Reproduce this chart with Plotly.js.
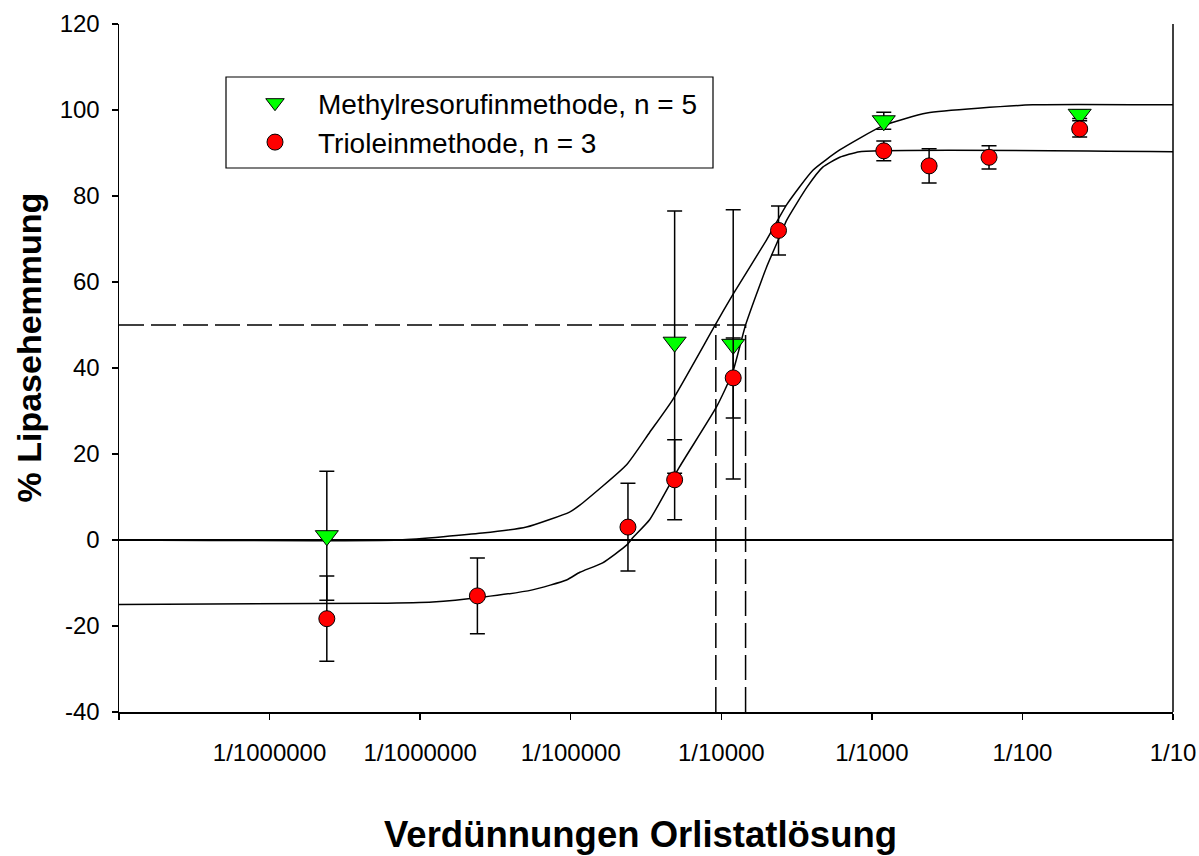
<!DOCTYPE html>
<html>
<head>
<meta charset="utf-8">
<script src="https://cdn.plot.ly/plotly-3.0.1.min.js"></script>
<style>
  html, body { margin: 0; padding: 0; background: #ffffff; }
  #chart { width: 1199px; height: 856px; }
</style>
</head>
<body>
<div id="chart"></div>
<script>
// ---- Data ----
// Dilutions (x) of the Orlistat solution
const methylX = [2.4e-7, 4.9e-5, 1.2e-4, 1.2e-3, 2.4e-2];
const methylY = [1, 46, 45.5, 97.5, 99];
const methylErr = [15, 30.5, 31.3, 2, 1];

const trioleinX = [2.4e-7, 2.4e-6, 2.4e-5, 4.9e-5, 1.2e-4, 2.4e-4, 1.2e-3, 2.4e-3, 6.0e-3, 2.4e-2];
const trioleinY = [-18.3, -13, 3, 14, 37.7, 72, 90.5, 87, 89, 95.6];
const trioleinErr = [9.9, 8.8, 10.2, 9.3, 9.3, 5.7, 2.3, 4, 2.7, 1.9];

// Fitted curves
const methylFitX = [1e-8, 7.28e-7, 2.59e-6, 5.08e-6, 9.82e-6, 1.15e-5, 2.35e-5, 3.34e-5, 4.75e-5, 9.04e-5,
                    1.19e-4, 2.00e-4, 2.72e-4, 4.06e-4, 6.12e-4, 1.18e-3, 2.32e-3, 1.17e-2, 1e-1];
const methylFitY = [0, 0, 1.6, 3, 6.5, 8.1, 17.5, 25, 32.6, 49.8,
                    57, 69.8, 78, 86, 90.7, 96.3, 99.3, 101.2, 101.2];

const trioleinFitX = [1e-8, 5.12e-7, 1.21e-6, 2.59e-6, 5.57e-6, 9.38e-6, 1.15e-5, 1.63e-5, 2.35e-5, 2.58e-5,
                      3.34e-5, 5.28e-5, 9.31e-5, 1.19e-4, 1.45e-4, 2.00e-4, 2.44e-4, 2.72e-4, 3.70e-4, 4.72e-4,
                      6.12e-4, 8.32e-4, 1e-1];
const trioleinFitY = [-15, -14.7, -14.4, -13.3, -11.6, -9.3, -7.5, -5.3, -1.2, 0.5,
                      4.7, 17, 31, 39, 50, 63.5, 70.5, 74.4, 82, 86.7,
                      89, 90.3, 90.3];

// IC50 guide lines
const ic50Level = 50;
const ic50Methyl = 9.2e-5;
const ic50Triolein = 1.45e-4;
const xMin = 1e-8, xMax = 1e-1, yMin = -40, yMax = 120;

// Axis ticks
const xTickVals = [1e-8, 1e-7, 1e-6, 1e-5, 1e-4, 1e-3, 1e-2, 1e-1];
const xTickText = ['', '1/1000000', '1/1000000', '1/100000', '1/10000', '1/1000', '1/100', '1/10'];
const yTickVals = [-40, -20, 0, 20, 40, 60, 80, 100, 120];
const yTickText = ['-40', '-20', '0', '20', '40', '60', '80', '100', '120'];

const legendNames = ['Methylresorufinmethode, n = 5', 'Trioleinmethode, n = 3'];
const xTitle = 'Verdünnungen Orlistatlösung';
const yTitle = '% Lipasehemmung';

// ---- Traces ----
const FONT = 'Liberation Sans, Arial, Helvetica, sans-serif';
const dashStyle = '25px,7px';

const traces = [
  { x: methylFitX, y: methylFitY, mode: 'lines', line: {color: '#000', width: 1.5, shape: 'spline', smoothing: 0.5},
    showlegend: false, hoverinfo: 'skip' },
  { x: trioleinFitX, y: trioleinFitY, mode: 'lines', line: {color: '#000', width: 1.5, shape: 'spline', smoothing: 0.5},
    showlegend: false, hoverinfo: 'skip' },
  { x: [xMin, ic50Triolein], y: [ic50Level, ic50Level], mode: 'lines',
    line: {color: '#000', width: 1.5, dash: dashStyle}, showlegend: false, hoverinfo: 'skip' },
  { x: [ic50Methyl, ic50Methyl], y: [yMin, ic50Level], mode: 'lines',
    line: {color: '#000', width: 1.5, dash: dashStyle}, showlegend: false, hoverinfo: 'skip' },
  { x: [ic50Triolein, ic50Triolein], y: [yMin, ic50Level], mode: 'lines',
    line: {color: '#000', width: 1.5, dash: dashStyle}, showlegend: false, hoverinfo: 'skip' },
  { x: methylX, y: methylY, name: legendNames[0], mode: 'markers',
    marker: {symbol: 'triangle-down', size: 20, color: '#00ff00', line: {color: '#000', width: 1}},
    error_y: {type: 'data', array: methylErr, visible: true, color: '#000', thickness: 1.5, width: 7.5} },
  { x: trioleinX, y: trioleinY, name: legendNames[1], mode: 'markers',
    marker: {symbol: 'circle', size: 16, color: '#ff0000', line: {color: '#000', width: 1}},
    error_y: {type: 'data', array: trioleinErr, visible: true, color: '#000', thickness: 1.5, width: 7.5} }
];

const plotL = 119, plotR = 1173, plotT = 24, plotB = 712;
const pw = plotR - plotL, ph = plotB - plotT;
const px = v => (v - plotL) / pw;
const py = v => (plotB - v) / ph;

const layout = {
  width: 1199, height: 856,
  margin: {l: plotL, r: 1199 - plotR, t: plotT, b: 856 - plotB, pad: 0},
  paper_bgcolor: '#fff', plot_bgcolor: '#fff',
  font: {family: FONT, color: '#000', size: 24},
  showlegend: true,
  legend: {
    x: px(232), y: py(78), xanchor: 'left', yanchor: 'top',
    bgcolor: 'rgba(0,0,0,0)', borderwidth: 0,
    font: {family: FONT, size: 28, color: '#000'},
    itemwidth: 76, tracegroupgap: 0
  },
  xaxis: {
    type: 'log', range: [Math.log10(xMin), Math.log10(xMax)],
    tickmode: 'array', tickvals: xTickVals, ticktext: xTickText,
    ticks: 'outside', ticklen: 6, tickwidth: 1.5, tickcolor: '#000',
    ticklabelstandoff: 13,
    showline: true, linecolor: '#000', linewidth: 1.5,
    showgrid: false, zeroline: false,
    tickfont: {family: FONT, size: 24, color: '#000'}
  },
  yaxis: {
    range: [yMin, yMax],
    tickmode: 'array', tickvals: yTickVals, ticktext: yTickText,
    ticks: 'outside', ticklen: 6, tickwidth: 1.5, tickcolor: '#000',
    ticklabelstandoff: 7,
    showline: true, linecolor: '#000', linewidth: 1.5,
    showgrid: false, zeroline: true, zerolinecolor: '#000', zerolinewidth: 1.5,
    tickfont: {family: FONT, size: 24, color: '#000'}
  },
  shapes: [
    { type: 'line', xref: 'paper', yref: 'paper', x0: 1, x1: 1, y0: 0, y1: 1,
      line: {color: '#000', width: 1.5} },
    { type: 'rect', xref: 'paper', yref: 'paper', x0: px(226), x1: px(713), y0: py(168), y1: py(77),
      line: {color: '#000', width: 1.2}, fillcolor: 'rgba(0,0,0,0)' }
  ],
  annotations: [
    { text: '<b>' + xTitle + '</b>', xref: 'paper', yref: 'paper', x: px(640.5), y: py(834),
      xanchor: 'center', yanchor: 'middle', showarrow: false,
      font: {family: FONT, size: 36.5, color: '#000'} },
    { text: '<b>' + yTitle + '</b>', xref: 'paper', yref: 'paper', x: px(28), y: py(347.5),
      xanchor: 'center', yanchor: 'middle', showarrow: false, textangle: -90,
      font: {family: FONT, size: 34, color: '#000'} }
  ]
};

Plotly.newPlot('chart', traces, layout, {staticPlot: true, displayModeBar: false});
</script>
</body>
</html>
